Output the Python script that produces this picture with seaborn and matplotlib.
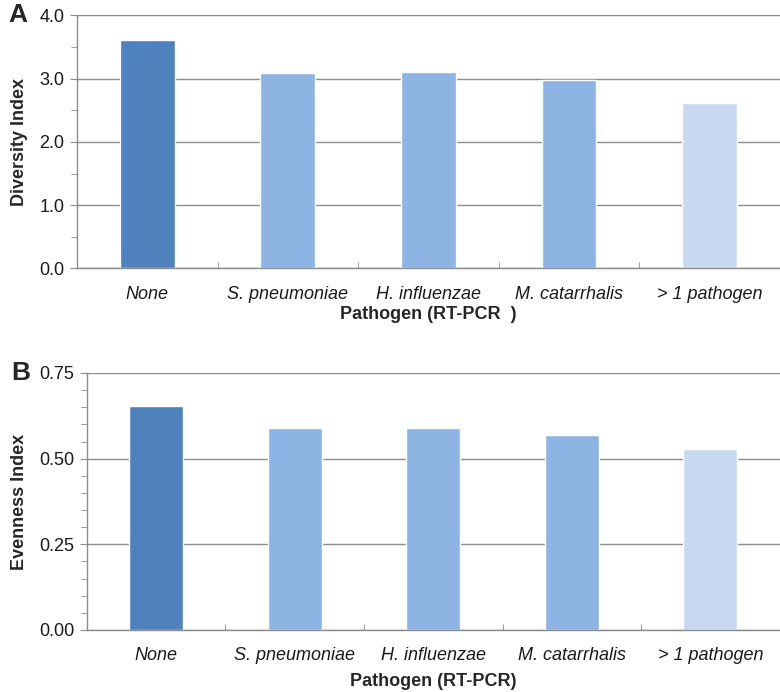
import pandas as pd
import seaborn as sns
import matplotlib.pyplot as plt
from matplotlib.ticker import MultipleLocator

pathogens = ["None", "S. pneumoniae", "H. influenzae", "M. catarrhalis", "> 1 pathogen"]
diversity = [3.61, 3.08, 3.10, 2.97, 2.62]
evenness = [0.653, 0.590, 0.590, 0.569, 0.528]
bar_colors = ["#4F81BD", "#8EB4E3", "#8EB4E3", "#8EB4E3", "#C6D9F1"]

sns.set_style("white")
plt.rcParams['font.family'] = ['Liberation Sans', 'DejaVu Sans']

df = pd.DataFrame({"Pathogen": pathogens, "Diversity": diversity, "Evenness": evenness})

fig = plt.figure(figsize=(7.8, 6.92), dpi=100)
ax_a = fig.add_axes([0.0987, 0.612, 0.901, 0.366])
ax_b = fig.add_axes([0.1115, 0.0896, 0.888, 0.3714])


def draw_panel(ax, col, ylabel, xlabel, ymax, major, minor, fmt, letter, letter_x, xpad):
    sns.barplot(data=df, x="Pathogen", y=col, hue="Pathogen", palette=bar_colors,
                width=0.39, legend=False, ax=ax, saturation=1)
    ax.set_ylim(0, ymax)
    ax.set_xlim(-0.5, len(pathogens) - 0.5)
    ax.yaxis.set_major_locator(MultipleLocator(major))
    ax.yaxis.set_minor_locator(MultipleLocator(minor))
    ax.yaxis.set_major_formatter(fmt)
    ax.grid(axis="y", which="major", color="#8c8c8c", linewidth=1)
    ax.set_axisbelow(True)
    for side in ["top", "right"]:
        ax.spines[side].set_visible(False)
    for side in ["left", "bottom"]:
        ax.spines[side].set_color("#8c8c8c")
        ax.spines[side].set_linewidth(1)
    ax.tick_params(axis="y", which="major", left=True, length=5, color="#8c8c8c",
                   labelsize=13, pad=4, labelcolor="#1a1a1a")
    ax.tick_params(axis="y", which="minor", left=True, length=4, color="#8c8c8c")
    # category ticks sit between the bars
    ax.set_xticks([i + 0.5 for i in range(len(pathogens))], minor=True)
    ax.tick_params(axis="x", which="minor", bottom=True, direction="in", length=4,
                   color="#8c8c8c")
    ax.tick_params(axis="x", which="major", bottom=False, labelsize=13, pad=9,
                   labelcolor="#1a1a1a")
    for lab in ax.get_xticklabels():
        lab.set_fontstyle("italic")
    ax.set_ylabel(ylabel, fontsize=13, fontweight="bold", labelpad=8)
    ax.set_xlabel(xlabel, fontsize=13, fontweight="bold", labelpad=xpad)
    ax.text(letter_x, 1.0, letter, transform=ax.transAxes, fontsize=19,
            fontweight="bold", ha="left", va="center")


draw_panel(ax_a, "Diversity", "Diversity Index", "Pathogen (RT-PCR  )", 4.0, 1.0, 0.5,
           "{x:.1f}", "A", -0.098, 2)
draw_panel(ax_b, "Evenness", "Evenness Index", "Pathogen (RT-PCR)", 0.75, 0.25, 0.05,
           "{x:.2f}", "B", -0.11, 6)

fig.savefig("out.png", dpi=100)
